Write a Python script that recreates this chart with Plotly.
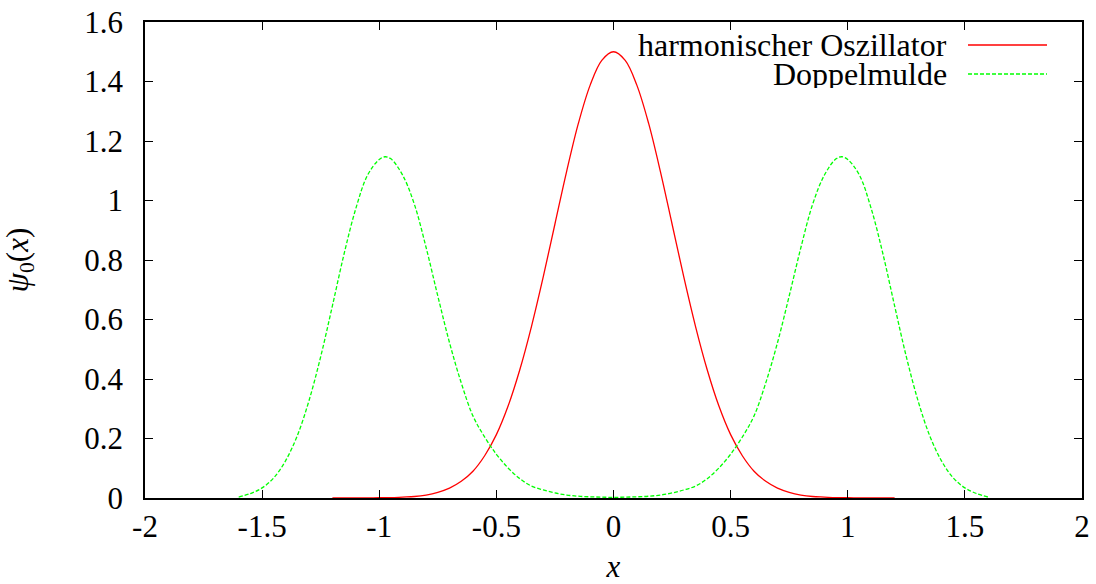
import plotly.graph_objects as go

# --- data ---
x_ho = [-1.20, -1.15, -1.10, -1.05, -1.00, -0.95, -0.90, -0.85, -0.80, -0.75, -0.70, -0.65,
        -0.60, -0.55, -0.50, -0.45, -0.40, -0.35, -0.30, -0.25, -0.20, -0.15, -0.10, -0.05,
        0.00, 0.05, 0.10, 0.15, 0.20, 0.25, 0.30, 0.35, 0.40, 0.45, 0.50, 0.55, 0.60,
        0.65, 0.70, 0.75, 0.80, 0.85, 0.90, 0.95, 1.00, 1.05, 1.10, 1.15, 1.20]
y_ho = [0.000, 0.000, 0.000, 0.000, 0.001, 0.001, 0.003, 0.005, 0.010, 0.019, 0.033, 0.056,
        0.090, 0.142, 0.213, 0.309, 0.431, 0.577, 0.743, 0.921, 1.098, 1.259, 1.387, 1.471,
        1.500, 1.471, 1.387, 1.259, 1.098, 0.921, 0.743, 0.577, 0.431, 0.309, 0.213, 0.142, 0.090,
        0.056, 0.033, 0.019, 0.010, 0.005, 0.003, 0.001, 0.001, 0.000, 0.000, 0.000, 0.000]

x_dm = [-1.60, -1.55, -1.50, -1.45, -1.40, -1.35, -1.30, -1.25, -1.20, -1.15, -1.10, -1.05,
        -1.00, -0.975, -0.95, -0.90, -0.85, -0.80, -0.75, -0.70, -0.65, -0.60, -0.55, -0.50,
        -0.45, -0.40, -0.35, -0.30, -0.25, -0.20, -0.15, -0.10, -0.05, 0.00,
        0.05, 0.10, 0.15, 0.20, 0.25, 0.30, 0.35, 0.40, 0.45, 0.50, 0.55, 0.60, 0.65,
        0.70, 0.75, 0.80, 0.85, 0.90, 0.95, 0.975, 1.00, 1.05, 1.10, 1.15, 1.20, 1.25,
        1.30, 1.35, 1.40, 1.45, 1.50, 1.55, 1.60]
y_dm = [0.003, 0.015, 0.034, 0.068, 0.125, 0.209, 0.327, 0.475, 0.646, 0.821, 0.973, 1.085,
        1.138, 1.147, 1.140, 1.085, 0.987, 0.842, 0.679, 0.522, 0.387, 0.276, 0.205, 0.147,
        0.101, 0.065, 0.040, 0.027, 0.017, 0.010, 0.006, 0.004, 0.003, 0.002,
        0.003, 0.004, 0.006, 0.010, 0.017, 0.027, 0.040, 0.065, 0.101, 0.147, 0.205, 0.276, 0.387,
        0.522, 0.679, 0.842, 0.987, 1.085, 1.140, 1.147, 1.138, 1.085, 0.973, 0.821, 0.646, 0.475,
        0.327, 0.209, 0.125, 0.068, 0.034, 0.015, 0.003]

series_names = ["harmonischer Oszillator", "Doppelmulde"]

x_ticks = [-2, -1.5, -1, -0.5, 0, 0.5, 1, 1.5, 2]
x_ticklabels = ["-2", "-1.5", "-1", "-0.5", "0", "0.5", "1", "1.5", "2"]
y_ticks = [0, 0.2, 0.4, 0.6, 0.8, 1.0, 1.2, 1.4, 1.6]
y_ticklabels = ["0", "0.2", "0.4", "0.6", "0.8", "1", "1.2", "1.4", "1.6"]

FONT = "Liberation Serif"
RED = "#ff0000"
GREEN = "#00ff00"
FS = 31

W, H = 1096, 584
PL, PR, PT, PB = 145, 1082, 22, 498   # plot frame in figure coordinates

fig = go.Figure()
fig.add_trace(go.Scatter(x=x_ho, y=y_ho, mode="lines", name=series_names[0],
                         line=dict(color=RED, width=1.3, shape="spline"), showlegend=False))
fig.add_trace(go.Scatter(x=x_dm, y=y_dm, mode="lines", name=series_names[1],
                         line=dict(color=GREEN, width=1.3, dash="4px,2px", shape="spline"),
                         showlegend=False))

axis_common = dict(
    showgrid=False, zeroline=False, showline=True, linecolor="black", linewidth=1.5,
    mirror="ticks", ticks="inside", ticklen=8, tickwidth=1, tickcolor="black",
    tickfont=dict(family=FONT, size=FS, color="black"), automargin=False,
    ticklabeloverflow="allow",
)

fig.update_xaxes(range=[-2, 2], tickvals=x_ticks, ticktext=x_ticklabels,
                 title=dict(text="<i>x</i>", font=dict(family=FONT, size=FS, color="black"),
                            standoff=12),
                 ticklabelstandoff=0, **axis_common)
fig.update_yaxes(range=[0, 1.6], tickvals=y_ticks, ticktext=y_ticklabels,
                 title=dict(text="<i>ψ</i><sub>0</sub>(<i>x</i>)",
                            font=dict(family=FONT, size=FS, color="black"), standoff=48),
                 ticklabelstandoff=14, **axis_common)

# gnuplot-style key: text right-aligned, line sample on its right
key_rows = [(45, series_names[0], RED, "solid"), (74, series_names[1], GREEN, "4px,2px")]
for ypx, label, col, dash in key_rows:
    yp = (PB - ypx) / (PB - PT)
    fig.add_annotation(xref="paper", yref="paper", x=(949 - PL) / (PR - PL),
                       y=yp, text=label, showarrow=False, height=28,
                       xanchor="right", yanchor="middle", valign="middle",
                       font=dict(family=FONT, size=32, color="black"))
    fig.add_shape(type="line", xref="paper", yref="paper",
                  x0=(968 - PL) / (PR - PL), x1=(1047 - PL) / (PR - PL),
                  y0=yp, y1=yp,
                  line=dict(color=col, width=1.3, dash=dash))

fig.update_layout(
    width=W, height=H,
    margin=dict(l=PL, r=W - PR, t=PT, b=H - PB),
    paper_bgcolor="white", plot_bgcolor="white",
    font=dict(family=FONT, color="black"),
)

# remove the default 8px page margin so the figure sits at the window's corner
fig.write_html("out.html", config={"displayModeBar": False},
               post_script="document.body.style.margin='0';")
